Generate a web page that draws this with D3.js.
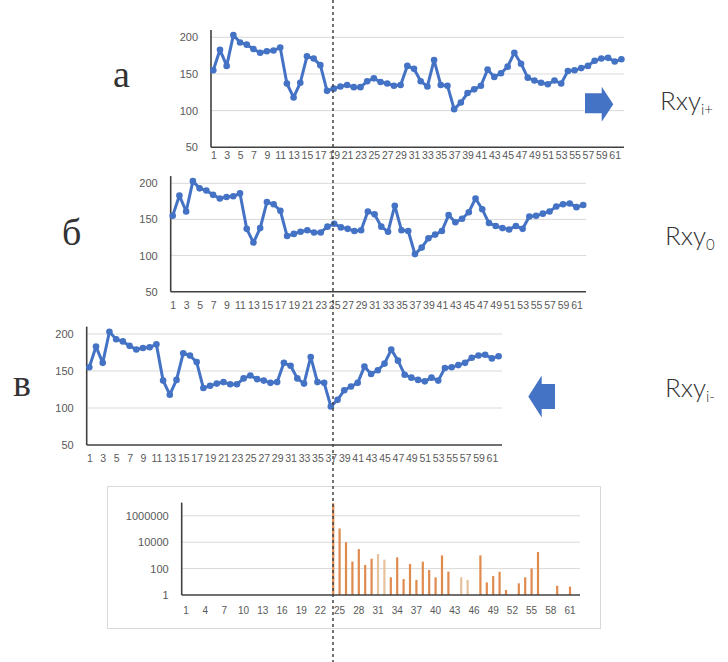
<!DOCTYPE html>
<html><head><meta charset="utf-8">
<script src="https://cdn.jsdelivr.net/npm/d3@7"></script>
<style>body{margin:0;background:#fff}svg{display:block}</style>
</head><body>
<script>
// ---------- data ----------
const categories = [1,2,3,4,5,6,7,8,9,10,11,12,13,14,15,16,17,18,19,20,21,22,23,24,25,26,27,28,29,30,31,
  32,33,34,35,36,37,38,39,40,41,42,43,44,45,46,47,48,49,50,51,52,53,54,55,56,57,58,59,60,61,62];
const seriesValues = [155,183,161,203,193,190,184,179,181,182,186,137,118,138,174,171,162,127,130,133,
  135,132,132,140,144,139,137,134,135,161,157,140,133,169,135,134,102,111,124,129,134,156,146,151,160,
  179,164,145,141,138,136,141,137,154,155,158,161,168,171,172,167,170];
const lineXTickLabels = [1,3,5,7,9,11,13,15,17,19,21,23,25,27,29,31,33,35,37,39,41,43,45,47,49,51,53,55,57,59,61];
const lineYTicks = [50,100,150,200];
const lineGridTicks = [100,150,200];
const barValues = [null,null,null,null,null,null,null,null,null,null,null,null,null,null,null,null,null,
  null,null,null,null,null,null,9000000,110000,10000,340,3000,190,560,1270,475,22,710,16,220,14,335,78,
  22,1000,59,null,22,14,null,1000,9,27,58,2.4,null,7.7,22,105,1800,null,null,5,null,4.3,null];
const barLightCategories = [31,32,44,45];
const barXTickLabels = [1,4,7,10,13,16,19,22,25,28,31,34,37,40,43,46,49,52,55,58,61];
const barYTicks = [1,100,10000,1000000];
const barGridTicks = [100,10000,1000000];
const panelLetters = ["а","б","в"];
const rxyBase = "Rxy";
const rxySubs = ["i+","0","i-"];

// ---------- drawing ----------
const W = 728, H = 662;
const svg = d3.select("body").append("svg").attr("width", W).attr("height", H);
const BLUE = "#4472C4";
const AXIS = "#404040";
const GRID = "#d9d9d9";
const TXT = "#595959";

const panels = [
  {axisX: 211, firstX: 213.3, lastX: 621.4, rightX: 624, y50: 147.3, y200: 37.3, labOff: 10},
  {axisX: 170.7, firstX: 172.7, lastX: 583.2, rightX: 586, y50: 291.7, y200: 183.3, labOff: 16},
  {axisX: 86.7, firstX: 89.3, lastX: 498.6, rightX: 502, y50: 445, y200: 334, labOff: 16}
];

panels.forEach((p, i) => {
  const g = svg.append("g");
  const x = d3.scalePoint().domain(categories).range([p.firstX, p.lastX]);
  const yTop = p.y200 - 10 * (p.y50 - p.y200) / 150;
  const y = d3.scaleLinear().domain([50, 210]).range([p.y50, yTop]);

  g.selectAll("line.grid").data(lineGridTicks).join("line")
    .attr("x1", p.axisX).attr("x2", p.rightX)
    .attr("y1", d => y(d)).attr("y2", d => y(d))
    .attr("stroke", GRID).attr("stroke-width", 1);

  const ya = g.append("g").attr("transform", `translate(${p.axisX - 2},0)`)
    .call(d3.axisLeft(y).tickValues(lineYTicks).tickSize(0).tickPadding(11));
  ya.select(".domain").remove();
  ya.selectAll("text").attr("fill", TXT).style("font-family", "'Liberation Sans', Arial, sans-serif").style("font-size", "11px");

  const xa = g.append("g").attr("transform", `translate(0,${p.y50 + p.labOff - 6})`)
    .call(d3.axisBottom(x).tickValues(lineXTickLabels).tickSize(0).tickPadding(0));
  xa.select(".domain").remove();
  xa.selectAll("text").attr("fill", TXT).attr("dy", "0.71em")
    .style("font-family", "'Liberation Sans', Arial, sans-serif").style("font-size", "10.5px");

  g.append("line").attr("x1", p.axisX).attr("x2", p.axisX).attr("y1", y(210)).attr("y2", y(50))
    .attr("stroke", AXIS).attr("stroke-width", 1.6);
  g.append("line").attr("x1", p.axisX).attr("x2", p.rightX).attr("y1", y(50)).attr("y2", y(50))
    .attr("stroke", AXIS).attr("stroke-width", 1.6);

  const pts = categories.map((c, k) => [c, seriesValues[k]]);
  g.append("path").datum(pts)
    .attr("d", d3.line().x(d => x(d[0])).y(d => y(d[1])))
    .attr("fill", "none").attr("stroke", BLUE).attr("stroke-width", 3).attr("stroke-linejoin", "round");
  g.selectAll("circle").data(pts).join("circle")
    .attr("cx", d => x(d[0])).attr("cy", d => y(d[1])).attr("r", 3.3).attr("fill", BLUE);
});

// panel letters
const letterPos = [[113, 87], [62, 245], [13, 396]];
svg.selectAll("text.letter").data(panelLetters).join("text").attr("class", "letter")
  .attr("x", (d, i) => letterPos[i][0]).attr("y", (d, i) => letterPos[i][1])
  .attr("fill", "#333").style("font-family", "'Liberation Serif', 'DejaVu Serif', serif")
  .style("font-size", "38px").text(d => d);

// Rxy labels
const rxyPos = [[660, 110], [665, 245], [665, 397]];
rxySubs.forEach((s, i) => {
  const t = svg.append("text").attr("x", rxyPos[i][0]).attr("y", rxyPos[i][1])
    .attr("fill", "#333").style("font-family", "Lato, 'Open Sans', sans-serif")
    .style("font-weight", 300).style("font-size", "26px");
  t.append("tspan").text(rxyBase);
  t.append("tspan").attr("dy", 5).style("font-size", "15px").text(s);
});

// arrows
const rightArrow = [[585,93.3],[601.7,93.3],[601.7,86.7],[613.3,104.2],[601.7,121.7],[601.7,113.3],[585,113.3]];
const leftArrow = [[555,384],[541.7,384],[541.7,375.5],[528.3,396.5],[541.7,417.5],[541.7,409],[555,409]];
[rightArrow, leftArrow].forEach(a => {
  svg.append("path").attr("d", d3.line()(a) + "Z").attr("fill", BLUE);
});

// ---------- bar chart ----------
const bg = svg.append("g");
bg.append("rect").attr("x", 107.5).attr("y", 486.5).attr("width", 493).attr("height", 142)
  .attr("fill", "#fff").attr("stroke", GRID).attr("stroke-width", 1);
const bx = d3.scaleBand().domain(categories).range([182.8, 579.6]).padding(0);
const by = d3.scaleLog().domain([1, 1e7]).range([595, 502.6]);
bg.selectAll("line.grid").data(barGridTicks).join("line")
  .attr("x1", 181.7).attr("x2", 580).attr("y1", d => by(d)).attr("y2", d => by(d))
  .attr("stroke", GRID).attr("stroke-width", 1);
const bya = bg.append("g").attr("transform", "translate(181.7,0)")
  .call(d3.axisLeft(by).tickValues(barYTicks).tickFormat(d3.format("d")).tickSize(0).tickPadding(13));
bya.select(".domain").remove();
bya.selectAll("text").attr("fill", TXT).style("font-family", "'Liberation Sans', Arial, sans-serif").style("font-size", "11px");
const bxa = bg.append("g").attr("transform", "translate(0,607)")
  .call(d3.axisBottom(bx).tickValues(barXTickLabels).tickSize(0).tickPadding(0));
bxa.select(".domain").remove();
bxa.selectAll("text").attr("fill", TXT).attr("dy", "0.71em")
  .style("font-family", "'Liberation Sans', Arial, sans-serif").style("font-size", "10px");

const bars = categories.map((c, k) => ({c, v: barValues[k]})).filter(d => d.v != null);
bg.selectAll("rect.bar").data(bars).join("rect").attr("class", "bar")
  .attr("x", d => bx(d.c) + bx.bandwidth() / 2 - 1.1).attr("width", 2.2)
  .attr("y", d => by(d.v)).attr("height", d => by(1) - by(d.v))
  .attr("fill", d => barLightCategories.includes(d.c) ? "#E6C29C" : "#E08A4E");

bg.append("line").attr("x1", 181.7).attr("x2", 181.7).attr("y1", by(1e7)).attr("y2", by(1))
  .attr("stroke", AXIS).attr("stroke-width", 1.6);
bg.append("line").attr("x1", 181.7).attr("x2", 580).attr("y1", by(1)).attr("y2", by(1))
  .attr("stroke", AXIS).attr("stroke-width", 1.6);

// dashed vertical reference line
svg.append("line").attr("x1", 333).attr("x2", 333).attr("y1", 0).attr("y2", H)
  .attr("stroke", "#444").attr("stroke-width", 1.5).attr("stroke-dasharray", "3,3");
</script>
</body></html>
